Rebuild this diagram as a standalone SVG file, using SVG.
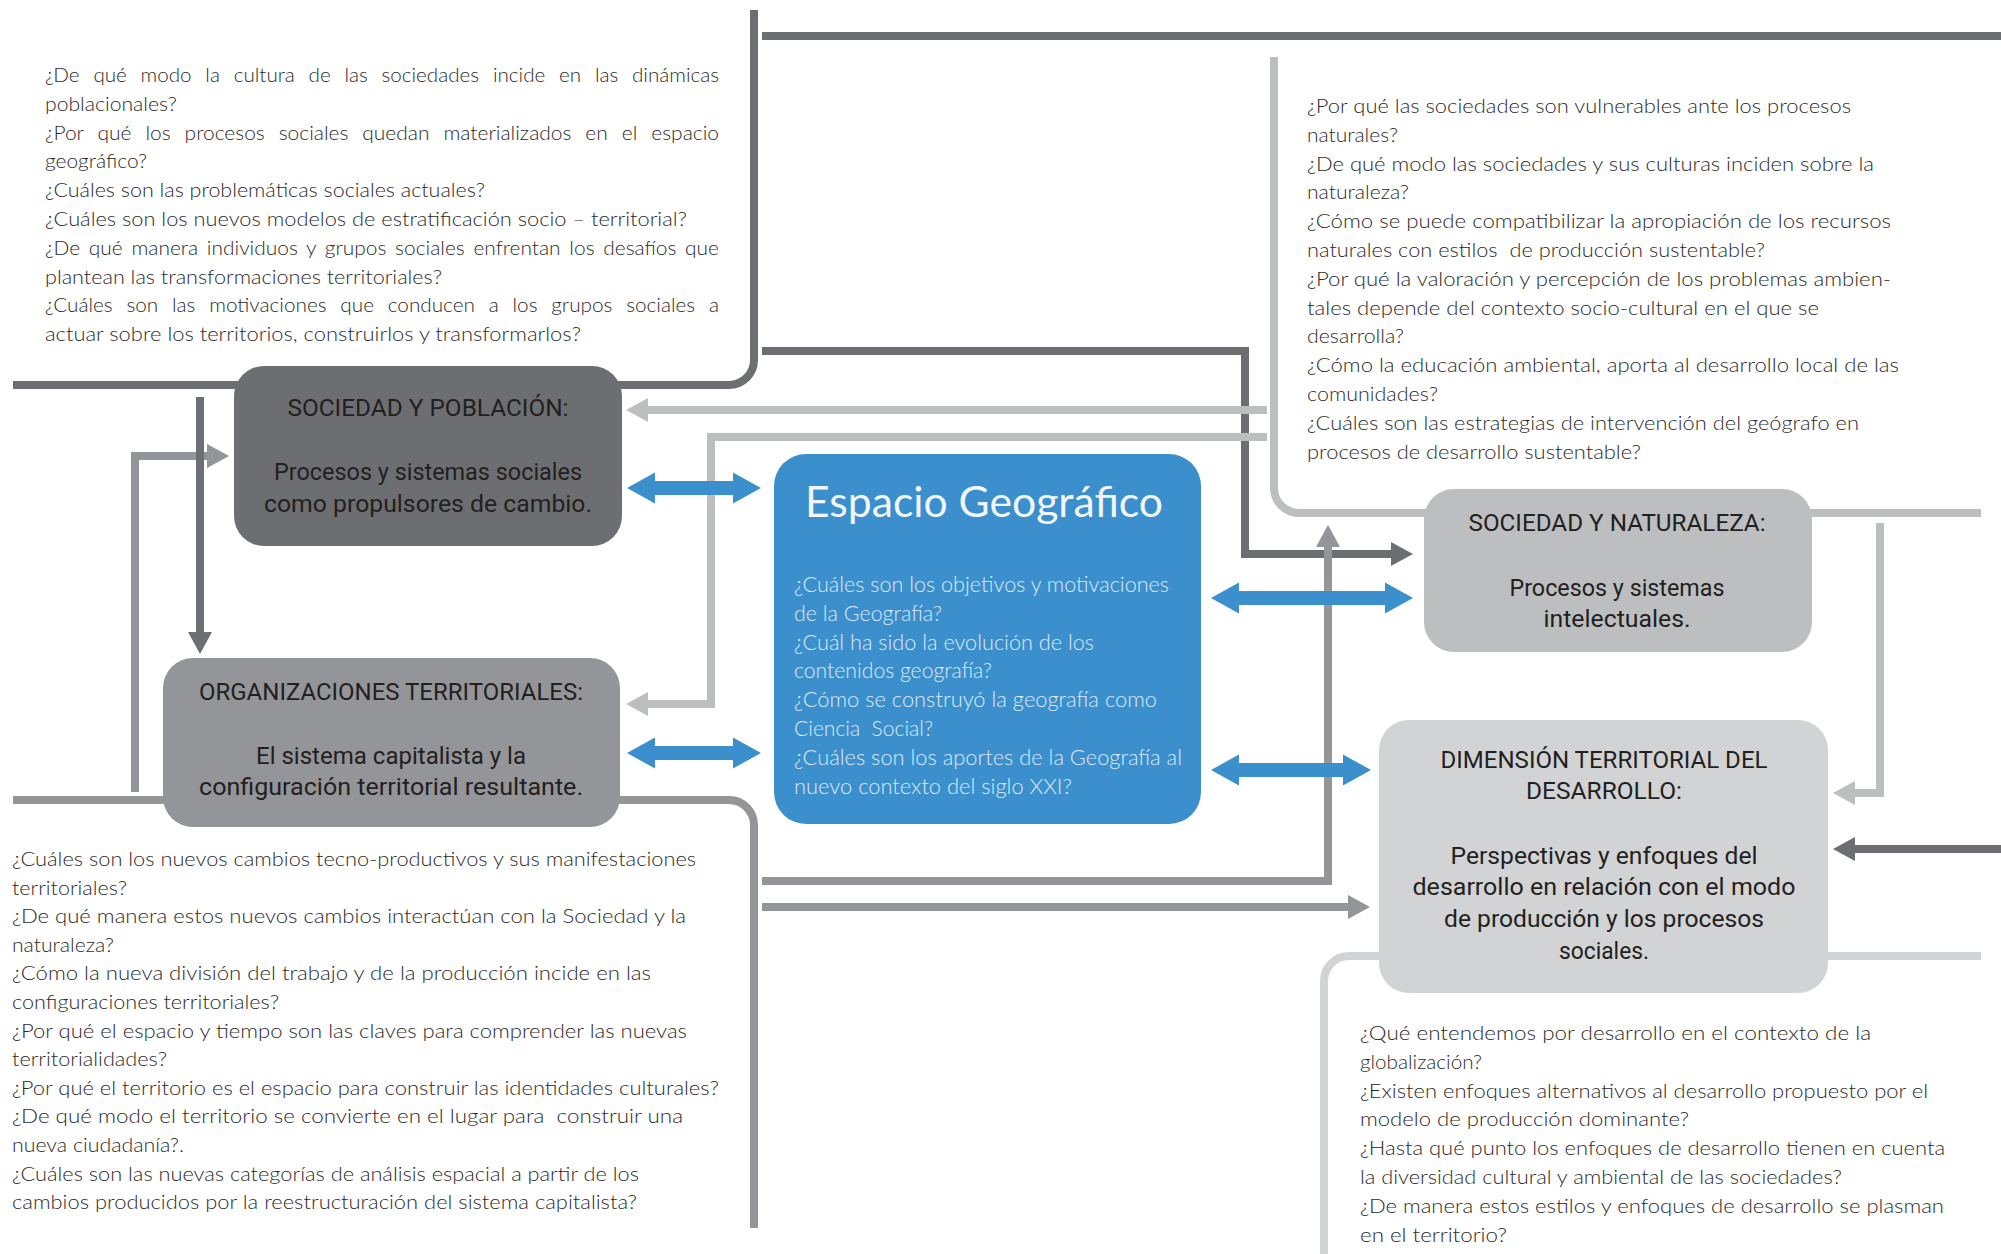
<svg xmlns="http://www.w3.org/2000/svg" width="2001" height="1254" viewBox="0 0 2001 1254">
<defs>
<style>
.ln{fill:none;stroke-width:8}
.dk{stroke:#6d6e71}.md{stroke:#939598}.lt{stroke:#bcbec0}.xl{stroke:#d1d3d4}
.q{font-family:Lato,"Open Sans",sans-serif;font-weight:300;font-size:19px;fill:#2b2b2b}
.nt{font-family:"Liberation Sans Narrow",Roboto,sans-serif;font-size:24px;fill:#231f20;text-anchor:middle}
.eb{font-family:Lato,"Open Sans",sans-serif;font-weight:300;font-size:21px;fill:#dde9f6}
.et{font-family:Lato,"Open Sans",sans-serif;font-size:42px;fill:#f2f5fa}
.ba{fill:#3c8fcd}
</style>
<marker id="mDk" markerUnits="userSpaceOnUse" markerWidth="22" markerHeight="24" viewBox="0 0 22 24" refX="1" refY="12" orient="auto"><path d="M0,0 L22,12 L0,24 z" fill="#6d6e71"/></marker>
<marker id="mMd" markerUnits="userSpaceOnUse" markerWidth="22" markerHeight="24" viewBox="0 0 22 24" refX="1" refY="12" orient="auto"><path d="M0,0 L22,12 L0,24 z" fill="#939598"/></marker>
<marker id="mLt" markerUnits="userSpaceOnUse" markerWidth="22" markerHeight="24" viewBox="0 0 22 24" refX="1" refY="12" orient="auto"><path d="M0,0 L22,12 L0,24 z" fill="#bcbec0"/></marker>
</defs>
<rect width="2001" height="1254" fill="#ffffff"/>

<g id="connectors">
<path class="ln dk" d="M13,385 H729 A25,25 0 0 0 754,360 V10"/>
<path class="ln dk" d="M762,36 H2001"/>
<path class="ln dk" d="M762,351 H1245 V554 H1392" marker-end="url(#mDk)"/>
<path class="ln lt" d="M1267,410 H647" marker-end="url(#mLt)"/>
<path class="ln lt" d="M1267,437 H711 V704 H647" marker-end="url(#mLt)"/>
<path class="ln lt" d="M1274,57 V488 A25,25 0 0 0 1299,513 H1981"/>
<path class="ln lt" d="M1880,523 V793 H1854" marker-end="url(#mLt)"/>
<path class="ln dk" d="M2001,849 H1854" marker-end="url(#mDk)"/>
<path class="ln xl" d="M1981,956 H1349 A25,25 0 0 0 1324,981 V1254"/>
<path class="ln md" d="M13,800 H729 A25,25 0 0 1 754,825 V1228"/>
<path class="ln md" d="M135,792 V456 H208" marker-end="url(#mMd)"/>
<path class="ln dk" d="M200,397 V633" marker-end="url(#mDk)"/>
<path class="ln md" d="M762,881 H1328 V546" marker-end="url(#mMd)"/>
<path class="ln md" d="M762,907 H1349" marker-end="url(#mMd)"/>
<polygon class="ba" points="627,488 655,472.5 655,481 733,481 733,472.5 761,488 733,503.5 733,495 655,495 655,503.5"/>
<polygon class="ba" points="627,753 655,737.5 655,746 733,746 733,737.5 761,753 733,768.5 733,760 655,760 655,768.5"/>
<polygon class="ba" points="1211,598 1239,582.5 1239,591 1385,591 1385,582.5 1413,598 1385,613.5 1385,605 1239,605 1239,613.5"/>
<polygon class="ba" points="1211,770 1239,754.5 1239,763 1343,763 1343,754.5 1371,770 1343,785.5 1343,777 1239,777 1239,785.5"/>
</g>

<g id="node-sociedad-poblacion">
<rect x="234" y="366" width="388" height="180" rx="30" fill="#6d6e71"/>
<text class="nt" x="428" y="416" textLength="281" lengthAdjust="spacingAndGlyphs">SOCIEDAD Y POBLACIÓN:</text>
<text class="nt" x="428" y="480" textLength="308" lengthAdjust="spacingAndGlyphs">Procesos y sistemas sociales</text>
<text class="nt" x="428" y="512" textLength="328" lengthAdjust="spacingAndGlyphs">como propulsores de cambio.</text>
</g>

<g id="node-organizaciones">
<rect x="163" y="658" width="457" height="169" rx="30" fill="#939598"/>
<text class="nt" x="391" y="700" textLength="384" lengthAdjust="spacingAndGlyphs">ORGANIZACIONES TERRITORIALES:</text>
<text class="nt" x="391" y="764" textLength="270" lengthAdjust="spacingAndGlyphs">El sistema capitalista y la</text>
<text class="nt" x="391" y="795" textLength="384" lengthAdjust="spacingAndGlyphs">configuración territorial resultante.</text>
</g>

<g id="node-espacio">
<rect x="774" y="454" width="427" height="370" rx="32" fill="#3c8fcd"/>
<text class="et" x="805" y="517" textLength="358" lengthAdjust="spacingAndGlyphs">Espacio Geográfico</text>
<text class="eb" x="794" y="592" textLength="375" lengthAdjust="spacingAndGlyphs">¿Cuáles son los objetivos y motivaciones</text>
<text class="eb" x="794" y="620.8" textLength="148" lengthAdjust="spacingAndGlyphs">de la Geografía?</text>
<text class="eb" x="794" y="649.6" textLength="300" lengthAdjust="spacingAndGlyphs">¿Cuál ha sido la evolución de los</text>
<text class="eb" x="794" y="678.4" textLength="198" lengthAdjust="spacingAndGlyphs">contenidos geografía?</text>
<text class="eb" x="794" y="707.2" textLength="363" lengthAdjust="spacingAndGlyphs">¿Cómo se construyó la geografía como</text>
<text class="eb" x="794" y="736" textLength="139" lengthAdjust="spacingAndGlyphs" xml:space="preserve">Ciencia  Social?</text>
<text class="eb" x="794" y="764.8" textLength="388" lengthAdjust="spacingAndGlyphs">¿Cuáles son los aportes de la Geografía al</text>
<text class="eb" x="794" y="793.6" textLength="278" lengthAdjust="spacingAndGlyphs">nuevo contexto del siglo XXI?</text>
</g>

<g id="node-sociedad-naturaleza">
<rect x="1424" y="489" width="388" height="163" rx="30" fill="#bcbec0"/>
<text class="nt" x="1617" y="531" textLength="297" lengthAdjust="spacingAndGlyphs">SOCIEDAD Y NATURALEZA:</text>
<text class="nt" x="1617" y="596" textLength="215" lengthAdjust="spacingAndGlyphs">Procesos y sistemas</text>
<text class="nt" x="1617" y="627" textLength="147" lengthAdjust="spacingAndGlyphs">intelectuales.</text>
</g>

<g id="node-dimension">
<rect x="1379" y="720" width="449" height="273" rx="30" fill="#d1d3d4"/>
<text class="nt" x="1604" y="768" textLength="327" lengthAdjust="spacingAndGlyphs">DIMENSIÓN TERRITORIAL DEL</text>
<text class="nt" x="1604" y="799" textLength="156" lengthAdjust="spacingAndGlyphs">DESARROLLO:</text>
<text class="nt" x="1604" y="864" textLength="307" lengthAdjust="spacingAndGlyphs">Perspectivas y enfoques del</text>
<text class="nt" x="1604" y="895" textLength="383" lengthAdjust="spacingAndGlyphs">desarrollo en relación con el modo</text>
<text class="nt" x="1604" y="927" textLength="320" lengthAdjust="spacingAndGlyphs">de producción y los procesos</text>
<text class="nt" x="1604" y="959" textLength="90" lengthAdjust="spacingAndGlyphs">sociales.</text>
</g>

<g id="questions-poblacion">
<text class="q" x="45" y="82" word-spacing="7.5" textLength="674" lengthAdjust="spacingAndGlyphs">¿De qué modo la cultura de las sociedades incide en las dinámicas</text>
<text class="q" x="45" y="110.8" textLength="132" lengthAdjust="spacingAndGlyphs">poblacionales?</text>
<text class="q" x="45" y="139.6" word-spacing="7.5" textLength="674" lengthAdjust="spacingAndGlyphs">¿Por qué los procesos sociales quedan materializados en el espacio</text>
<text class="q" x="45" y="168.4" textLength="102" lengthAdjust="spacingAndGlyphs">geográfico?</text>
<text class="q" x="45" y="197.2" textLength="440" lengthAdjust="spacingAndGlyphs">¿Cuáles son las problemáticas sociales actuales?</text>
<text class="q" x="45" y="226" textLength="642" lengthAdjust="spacingAndGlyphs">¿Cuáles son los nuevos modelos de estratificación socio – territorial?</text>
<text class="q" x="45" y="254.8" word-spacing="2.8" textLength="674" lengthAdjust="spacingAndGlyphs">¿De qué manera individuos y grupos sociales enfrentan los desafíos que</text>
<text class="q" x="45" y="283.6" textLength="397" lengthAdjust="spacingAndGlyphs">plantean las transformaciones territoriales?</text>
<text class="q" x="45" y="312.4" word-spacing="7.5" textLength="674" lengthAdjust="spacingAndGlyphs">¿Cuáles son las motivaciones que conducen a los grupos sociales a</text>
<text class="q" x="45" y="341.2" textLength="536" lengthAdjust="spacingAndGlyphs">actuar sobre los territorios, construirlos y transformarlos?</text>
</g>

<g id="questions-naturaleza">
<text class="q" x="1307" y="113" textLength="544" lengthAdjust="spacingAndGlyphs">¿Por qué las sociedades son vulnerables ante los procesos</text>
<text class="q" x="1307" y="141.8" textLength="91" lengthAdjust="spacingAndGlyphs">naturales?</text>
<text class="q" x="1307" y="170.6" textLength="567" lengthAdjust="spacingAndGlyphs">¿De qué modo las sociedades y sus culturas inciden sobre la</text>
<text class="q" x="1307" y="199.4" textLength="102" lengthAdjust="spacingAndGlyphs">naturaleza?</text>
<text class="q" x="1307" y="228.2" textLength="584" lengthAdjust="spacingAndGlyphs">¿Cómo se puede compatibilizar la apropiación de los recursos</text>
<text class="q" x="1307" y="257" textLength="458" lengthAdjust="spacingAndGlyphs" xml:space="preserve">naturales con estilos  de producción sustentable?</text>
<text class="q" x="1307" y="285.8" textLength="584" lengthAdjust="spacingAndGlyphs">¿Por qué la valoración y percepción de los problemas ambien-</text>
<text class="q" x="1307" y="314.6" textLength="512" lengthAdjust="spacingAndGlyphs">tales depende del contexto socio-cultural en el que se</text>
<text class="q" x="1307" y="343.4" textLength="97" lengthAdjust="spacingAndGlyphs">desarrolla?</text>
<text class="q" x="1307" y="372.2" textLength="592" lengthAdjust="spacingAndGlyphs">¿Cómo la educación ambiental, aporta al desarrollo local de las</text>
<text class="q" x="1307" y="401" textLength="131" lengthAdjust="spacingAndGlyphs">comunidades?</text>
<text class="q" x="1307" y="429.8" textLength="552" lengthAdjust="spacingAndGlyphs">¿Cuáles son las estrategias de intervención del geógrafo en</text>
<text class="q" x="1307" y="458.6" textLength="334" lengthAdjust="spacingAndGlyphs">procesos de desarrollo sustentable?</text>
</g>

<g id="questions-organizaciones">
<text class="q" x="12" y="866" textLength="684" lengthAdjust="spacingAndGlyphs">¿Cuáles son los nuevos cambios tecno-productivos y sus manifestaciones</text>
<text class="q" x="12" y="894.6" textLength="115" lengthAdjust="spacingAndGlyphs">territoriales?</text>
<text class="q" x="12" y="923.2" textLength="674" lengthAdjust="spacingAndGlyphs">¿De qué manera estos nuevos cambios interactúan con la Sociedad y la</text>
<text class="q" x="12" y="951.8" textLength="102" lengthAdjust="spacingAndGlyphs">naturaleza?</text>
<text class="q" x="12" y="980.4" textLength="639" lengthAdjust="spacingAndGlyphs">¿Cómo la nueva división del trabajo y de la producción incide en las</text>
<text class="q" x="12" y="1009" textLength="267" lengthAdjust="spacingAndGlyphs">configuraciones territoriales?</text>
<text class="q" x="12" y="1037.6" textLength="675" lengthAdjust="spacingAndGlyphs">¿Por qué el espacio y tiempo son las claves para comprender las nuevas</text>
<text class="q" x="12" y="1066.2" textLength="155" lengthAdjust="spacingAndGlyphs">territorialidades?</text>
<text class="q" x="12" y="1094.8" textLength="707" lengthAdjust="spacingAndGlyphs">¿Por qué el territorio es el espacio para construir las identidades culturales?</text>
<text class="q" x="12" y="1123.4" textLength="671" lengthAdjust="spacingAndGlyphs" xml:space="preserve">¿De qué modo el territorio se convierte en el lugar para  construir una</text>
<text class="q" x="12" y="1152" textLength="172" lengthAdjust="spacingAndGlyphs">nueva ciudadanía?.</text>
<text class="q" x="12" y="1180.6" textLength="627" lengthAdjust="spacingAndGlyphs">¿Cuáles son las nuevas categorías de análisis espacial a partir de los</text>
<text class="q" x="12" y="1209.2" textLength="625" lengthAdjust="spacingAndGlyphs">cambios producidos por la reestructuración del sistema capitalista?</text>
</g>

<g id="questions-dimension">
<text class="q" x="1360" y="1040" textLength="511" lengthAdjust="spacingAndGlyphs">¿Qué entendemos por desarrollo en el contexto de la</text>
<text class="q" x="1360" y="1068.8" textLength="122" lengthAdjust="spacingAndGlyphs">globalización?</text>
<text class="q" x="1360" y="1097.6" textLength="568" lengthAdjust="spacingAndGlyphs">¿Existen enfoques alternativos al desarrollo propuesto por el</text>
<text class="q" x="1360" y="1126.4" textLength="329" lengthAdjust="spacingAndGlyphs">modelo de producción dominante?</text>
<text class="q" x="1360" y="1155.2" textLength="585" lengthAdjust="spacingAndGlyphs">¿Hasta qué punto los enfoques de desarrollo tienen en cuenta</text>
<text class="q" x="1360" y="1184" textLength="482" lengthAdjust="spacingAndGlyphs">la diversidad cultural y ambiental de las sociedades?</text>
<text class="q" x="1360" y="1212.8" textLength="584" lengthAdjust="spacingAndGlyphs">¿De manera estos estilos y enfoques de desarrollo se plasman</text>
<text class="q" x="1360" y="1241.6" textLength="147" lengthAdjust="spacingAndGlyphs">en el territorio?</text>
</g>
</svg>
